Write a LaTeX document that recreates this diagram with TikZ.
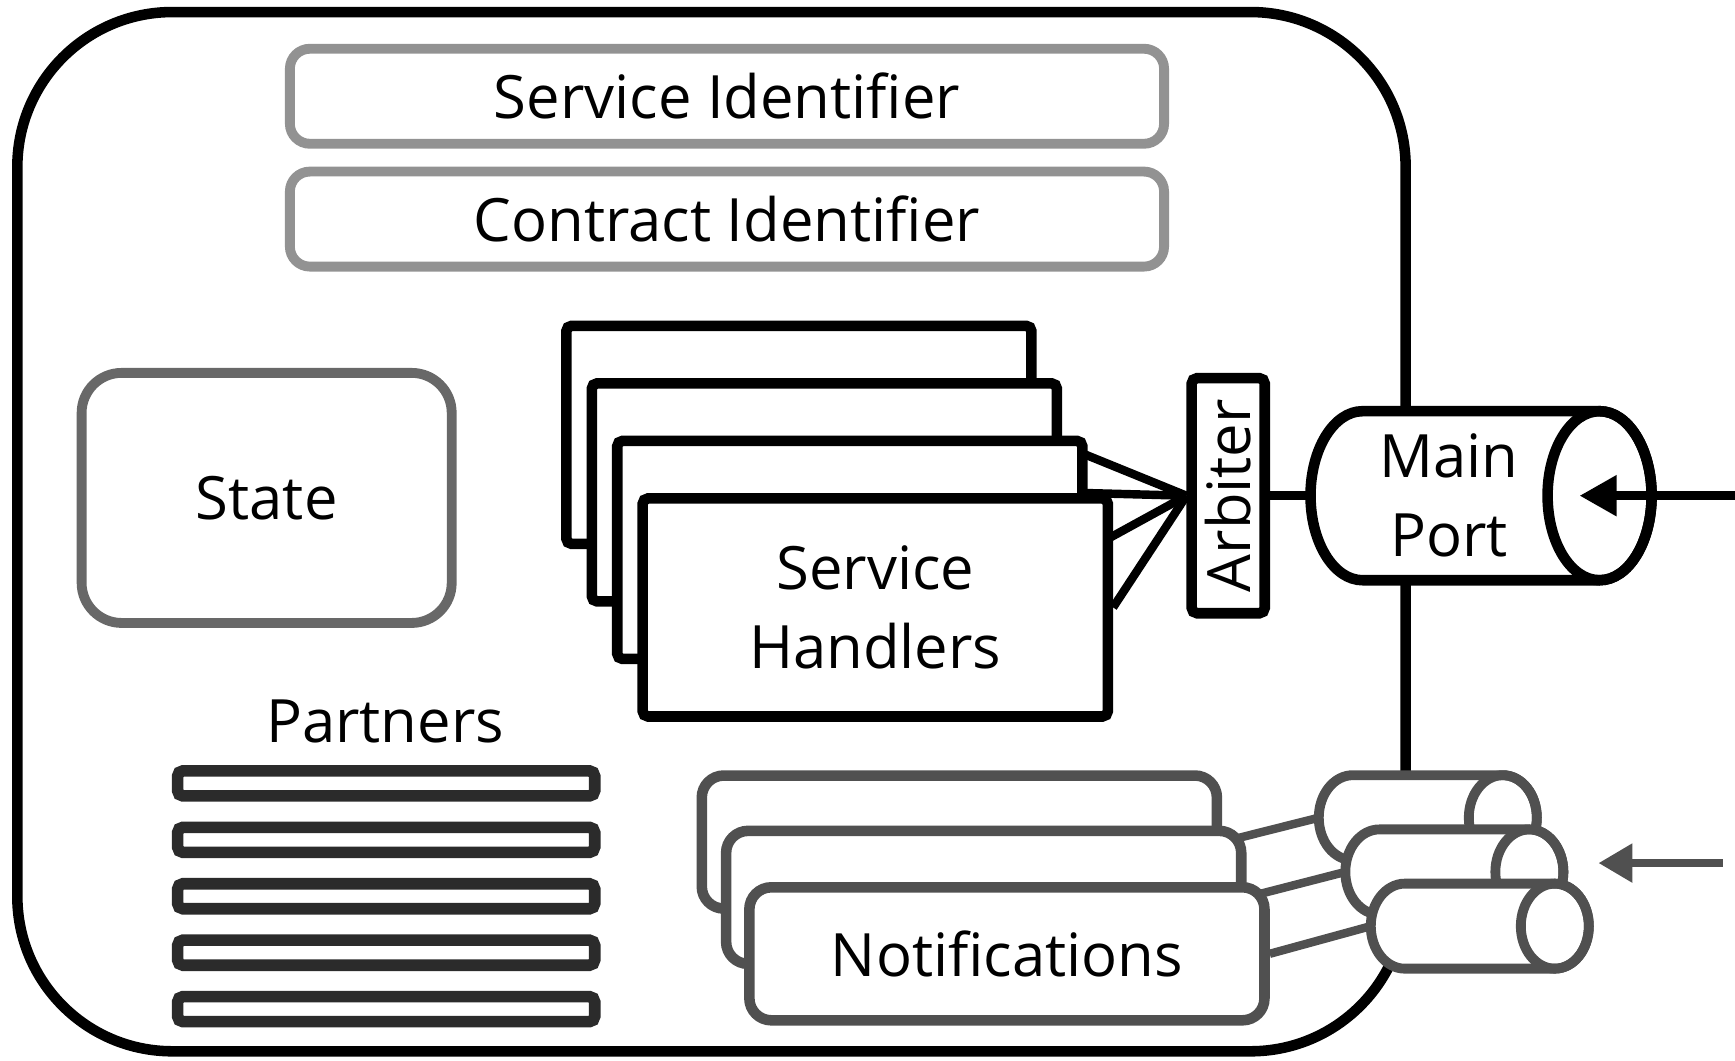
\documentclass[tikz,border=0pt]{standalone}
\usepackage{fontspec}
\usepackage{graphicx}
\setmainfont{Open Sans}
\usetikzlibrary{arrows.meta, backgrounds}

\definecolor{idgray}{HTML}{929292}
\definecolor{stategray}{HTML}{686868}
\definecolor{partnergray}{HTML}{2B2B2B}
\definecolor{notegray}{HTML}{505050}

\tikzset{
  outerbox/.style={draw=black, line width=3pt, rounded corners=1.55cm,
    minimum width=13.88cm, minimum height=10.39cm},
  idbox/.style={draw=idgray, line width=2.8pt, fill=white, rounded corners=0.2cm,
    minimum width=8.74cm, minimum height=0.95cm},
  statebox/.style={draw=stategray, line width=2.8pt, fill=white, rounded corners=0.4cm,
    minimum width=3.70cm, minimum height=2.50cm},
  partnerbar/.style={draw=partnergray, line width=3.3pt, fill=white, rounded corners=1.5pt,
    minimum width=4.17cm, minimum height=0.25cm, inner sep=0pt},
  handler/.style={draw=black, line width=3pt, fill=white, rounded corners=1.5pt,
    minimum width=4.65cm, minimum height=2.18cm},
  arbiterbox/.style={draw=black, line width=3pt, fill=white, rounded corners=1.5pt,
    minimum width=0.73cm, minimum height=2.35cm, inner sep=0pt},
  notebox/.style={draw=notegray, line width=3pt, fill=white, rounded corners=0.22cm,
    minimum width=5.15cm, minimum height=1.33cm},
  % port body: from the back end to the centre of the front face
  portbody/.style={inner sep=0pt, outer sep=0pt},
  wire/.style={line width=2.4pt},
}

% cylinder outline round a port body: node, x radius, y radius, style
\newcommand{\cylport}[4]{%
  \filldraw[fill=white, #4] ([xshift=#2]#1.north west) -- (#1.north east)
    arc[start angle=90, end angle=-90, x radius=#2, y radius=#3]
    -- ([xshift=#2]#1.south west)
    arc[start angle=270, end angle=90, x radius=#2, y radius=#3] -- cycle;
  \draw[#4] (#1.east) ellipse [x radius=#2, y radius=#3];
}

\begin{document}
\begin{tikzpicture}[x=0.011065cm, y=-0.011065cm,
  every node/.style={font=\fontsize{17}{22.5}\selectfont, align=center}]
  \useasboundingbox (0,0) rectangle (1568,958);

  % Service boundary
  \node[outerbox] (service) at (643,480.5) {};

  % Identifiers
  \node[idbox] (serviceid) at (657,87) {Service Identifier};
  \node[idbox] (contractid) at (657,198) {Contract Identifier};

  % State
  \node[statebox] (state) at (241,450) {State};

  % Partners
  \node (partners) at (348,652) {Partners};
  \foreach \y [count=\i] in {708,759,810,861,912}
    \node[partnerbar] (partner\i) at (349,\y) {};

  % Service handlers, back to front
  \foreach \i/\x/\y in {1/722/393, 2/745/445, 3/768/497}
    \node[handler] (handler\i) at (\x,\y) {};
  \node[handler] (handler4) at (791,549) {Service\\Handlers};

  % Arbiter and main port
  \node[arbiterbox] (arbiter) at (1110,448) {\rotatebox{90}{Arbiter}};
  \node[portbody, minimum width=2.89cm, minimum height=1.69cm] (mainport) at (1315,448) {};
  \cylport{mainport}{0.52cm}{0.845cm}{draw=black, line width=3pt}
  \node (mainportlabel) at ([xshift=-0.06cm]mainport.center) {Main\\Port};
  \coordinate (mainin) at (1568,448);

  % Notifications and their ports
  \foreach \i/\x/\y in {1/867/761, 2/889/811}
    \node[notebox] (note\i) at (\x,\y) {};
  \node[notebox] (note3) at (910,862) {Notifications};
  \foreach \i/\x/\y in {1/1275/739, 2/1299/788, 3/1322/837} {
    \node[portbody, minimum width=1.84cm, minimum height=0.85cm] (port\i) at (\x,\y) {};
    \cylport{port\i}{0.34cm}{0.425cm}{draw=notegray, line width=2.8pt}
  }
  \coordinate (notein) at (1557,780);

  % Wires behind the boxes
  \begin{pgfonlayer}{background}
    \foreach \i in {1,...,4}
      \draw[wire] (handler\i.east) -- (arbiter.west);
    \draw[wire] (arbiter.east) -- (mainport.west);
    \foreach \i in {1,2,3}
      \draw[wire, notegray] (note\i.east) -- (port\i.west);
  \end{pgfonlayer}

  % Incoming messages
  \draw[wire, -{Triangle[length=0.37cm, width=0.39cm]}, shorten >=-0.2cm]
    (mainin) -- (mainport.east);
  \draw[wire, notegray, -{Triangle[length=0.34cm, width=0.37cm]}, shorten >=0.69cm]
    (notein) -- (notein -| port2.east);
\end{tikzpicture}
\end{document}
